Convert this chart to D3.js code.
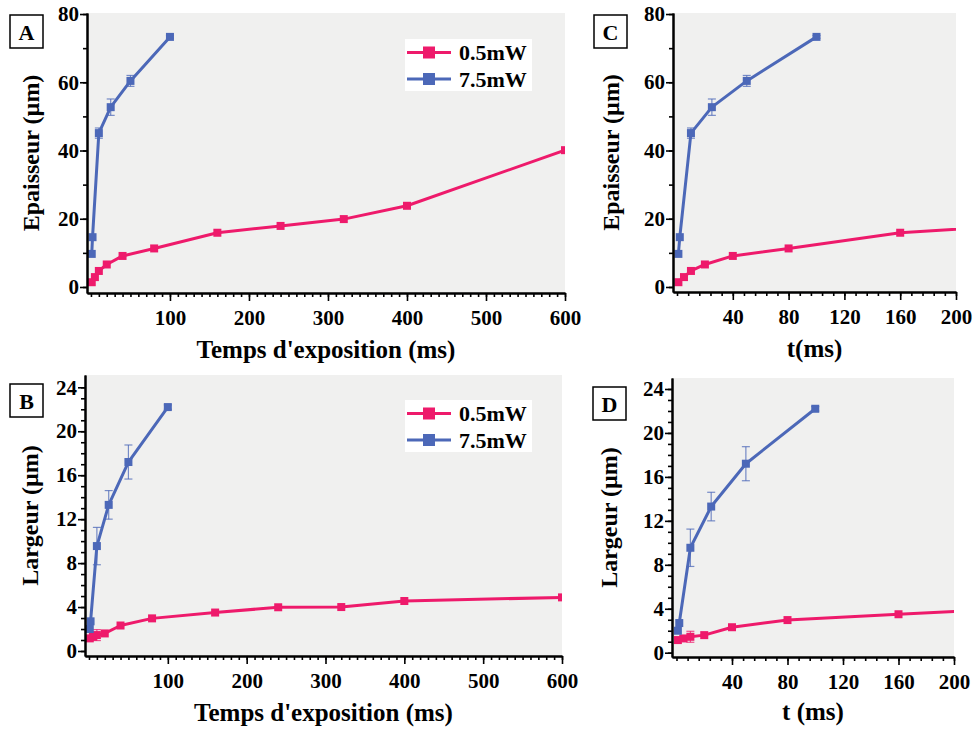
<!DOCTYPE html>
<html>
<head>
<meta charset="utf-8">
<script src="https://cdn.jsdelivr.net/npm/d3@7"></script>
<style>
  html, body { margin: 0; padding: 0; background: #fff; }
  svg { display: block; }
  text { font-family: "Liberation Serif", "Times New Roman", serif; font-weight: bold; fill: #000; }
</style>
</head>
<body>
<svg id="chart" width="973" height="729"></svg>
<script>
// ---------- DATA ----------
const seriesNames = ["0.5mW", "7.5mW"];
const tPink = [1, 5, 10, 20, 40, 80, 160, 240, 320, 400, 600];
const tBlue = [1, 2, 10, 25, 50, 100];

const epaisseurPink = [1.4, 2.9, 4.7, 6.6, 9.1, 11.3, 15.9, 17.9, 19.9, 23.8, 40.1];
const epaisseurPinkErr = [0, 0, 0, 0, 0, 0, 0, 0, 0, 0, 0];
const epaisseurBlue = [9.7, 14.6, 45.1, 52.7, 60.4, 73.3];
const epaisseurBlueErr = [0, 0, 1.5, 2.4, 1.6, 0.4];

const largeurPink = [1.15, 1.3, 1.45, 1.6, 2.32, 2.97, 3.5, 3.98, 4.0, 4.55, 4.88];
const largeurPinkErr = [0, 0.25, 0.5, 0, 0, 0, 0, 0, 0, 0, 0];
const largeurBlue = [2.0, 2.7, 9.55, 13.3, 17.2, 22.2];
const largeurBlueErr = [0, 0, 1.7, 1.3, 1.55, 0.2];

const xTicksLong = [100, 200, 300, 400, 500, 600];
const xMinorLong = d3.range(0, 601, 10);
const xTicksShort = [40, 80, 120, 160, 200];
const xMinorShort = d3.range(0, 201, 8);
const yTicksEp = [0, 20, 40, 60, 80];
const yMinorEp = d3.range(0, 81, 10);
const yTicksLg = [0, 4, 8, 12, 16, 20, 24];
const yMinorLg = d3.range(0, 25, 1);

const colors = ["#ee1a6b", "#4c68b8"];

// ---------- DRAW ----------
const svg = d3.select("#chart");

function panel(cfg) {
  const g = svg.append("g");
  const x = d3.scaleLinear().domain(cfg.xDomain).range([cfg.left, cfg.right]);
  const y = d3.scaleLinear().domain(cfg.yDomain).range([cfg.bottom, cfg.top]);
  const id = "clip" + cfg.label;

  svg.append("defs").append("clipPath").attr("id", id)
    .append("rect").attr("x", cfg.left).attr("y", cfg.top)
    .attr("width", cfg.right - cfg.left).attr("height", cfg.bottom - cfg.top);

  g.append("rect").attr("x", cfg.left).attr("y", cfg.top)
    .attr("width", cfg.right - cfg.left).attr("height", cfg.bottom - cfg.top)
    .attr("fill", "#f0f0ef");

  const plot = g.append("g").attr("clip-path", `url(#${id})`);
  cfg.series.forEach((s, i) => {
    const pts = s.x.map((xv, j) => ({ x: xv, y: s.y[j], e: s.err[j] }));
    const col = colors[i];
    const eb = plot.append("g").attr("stroke", col).attr("stroke-opacity", 0.75).attr("stroke-width", 1.2);
    pts.filter(p => p.e > 0).forEach(p => {
      const px = x(p.x), y1 = y(p.y + p.e), y2 = y(p.y - p.e);
      eb.append("line").attr("x1", px).attr("x2", px).attr("y1", y1).attr("y2", y2);
      eb.append("line").attr("x1", px - 4).attr("x2", px + 4).attr("y1", y1).attr("y2", y1);
      eb.append("line").attr("x1", px - 4).attr("x2", px + 4).attr("y1", y2).attr("y2", y2);
    });
    plot.append("path").datum(pts)
      .attr("fill", "none").attr("stroke", col).attr("stroke-width", 3)
      .attr("stroke-linejoin", "round")
      .attr("d", d3.line().x(d => x(d.x)).y(d => y(d.y)));
    plot.selectAll(null).data(pts).enter().append("rect")
      .attr("x", d => x(d.x) - 4).attr("y", d => y(d.y) - 4)
      .attr("width", 8).attr("height", 8).attr("fill", col);
  });

  const styleAxis = (sel) => {
    sel.select(".domain").attr("stroke", "#000").attr("stroke-width", 2);
    sel.selectAll(".tick line").attr("stroke", "#000").attr("stroke-width", 1.6);
    sel.selectAll("text").attr("font-family", '"Liberation Serif", serif')
      .attr("font-weight", "bold").attr("font-size", 21).attr("fill", "#000");
  };
  g.append("g").attr("transform", `translate(0,${cfg.bottom})`)
    .call(d3.axisBottom(x).tickValues(cfg.xMinor).tickSize(4).tickSizeOuter(0).tickFormat(""))
    .call(styleAxis);
  g.append("g").attr("transform", `translate(${cfg.left},0)`)
    .call(d3.axisLeft(y).tickValues(cfg.yMinor).tickSize(4).tickSizeOuter(0).tickFormat(""))
    .call(styleAxis);
  g.append("g").attr("transform", `translate(0,${cfg.bottom})`)
    .call(d3.axisBottom(x).tickValues(cfg.xTicks).tickSize(8).tickSizeOuter(0).tickPadding(9))
    .call(styleAxis);
  g.append("g").attr("transform", `translate(${cfg.left},0)`)
    .call(d3.axisLeft(y).tickValues(cfg.yTicks).tickSize(7).tickSizeOuter(0).tickPadding(1))
    .call(styleAxis);

  g.append("text").attr("x", (cfg.left + cfg.right) / 2).attr("y", cfg.xTitleY)
    .attr("text-anchor", "middle").attr("font-size", 25).text(cfg.xTitle);
  g.append("text")
    .attr("transform", `translate(${cfg.yTitleX},${(cfg.top + cfg.bottom) / 2}) rotate(-90)`)
    .attr("text-anchor", "middle").attr("font-size", 24).text(cfg.yTitle);

  g.append("rect").attr("x", cfg.box[0]).attr("y", cfg.box[1]).attr("width", 33).attr("height", 33)
    .attr("fill", "#fff").attr("stroke", "#000").attr("stroke-width", 1.5);
  g.append("text").attr("x", cfg.box[0] + 16.5).attr("y", cfg.box[1] + 25)
    .attr("text-anchor", "middle").attr("font-size", 22).text(cfg.label);

  if (cfg.legend) {
    const [lx, ly] = cfg.legend;
    const lg = g.append("g");
    lg.append("rect").attr("x", lx).attr("y", ly).attr("width", 127).attr("height", 52).attr("fill", "#fff");
    seriesNames.forEach((n, i) => {
      const yy = ly + 13.5 + i * 26.5;
      lg.append("line").attr("x1", lx + 2).attr("x2", lx + 46).attr("y1", yy).attr("y2", yy)
        .attr("stroke", colors[i]).attr("stroke-width", 3);
      lg.append("rect").attr("x", lx + 18).attr("y", yy - 6).attr("width", 12).attr("height", 12)
        .attr("fill", colors[i]);
      lg.append("text").attr("x", lx + 54).attr("y", yy + 7.5).attr("font-size", 22).text(n);
    });
  }
}

panel({
  label: "A", left: 87, right: 565, top: 13, bottom: 293,
  xDomain: [-5, 600], yDomain: [-1.76, 80.3],
  xTicks: xTicksLong, xMinor: xMinorLong, yTicks: yTicksEp, yMinor: yMinorEp,
  xTitle: "Temps d'exposition (ms)", xTitleY: 358,
  yTitle: "Epaisseur (µm)", yTitleX: 39,
  box: [10, 15], legend: [405, 39],
  series: [
    { x: tPink, y: epaisseurPink, err: epaisseurPinkErr },
    { x: tBlue, y: epaisseurBlue, err: epaisseurBlueErr }
  ]
});

panel({
  label: "B", left: 85, right: 562, top: 375, bottom: 656,
  xDomain: [-5.07, 600], yDomain: [-0.455, 25.12],
  xTicks: xTicksLong, xMinor: xMinorLong, yTicks: yTicksLg, yMinor: yMinorLg,
  xTitle: "Temps d'exposition (ms)", xTitleY: 721,
  yTitle: "Largeur (µm)", yTitleX: 38,
  box: [10, 384], legend: [405, 400],
  series: [
    { x: tPink, y: largeurPink, err: largeurPinkErr },
    { x: tBlue, y: largeurBlue, err: largeurBlueErr }
  ]
});

panel({
  label: "C", left: 673, right: 956, top: 13, bottom: 292,
  xDomain: [-2.87, 200], yDomain: [-1.47, 80.3],
  xTicks: xTicksShort, xMinor: xMinorShort, yTicks: yTicksEp, yMinor: yMinorEp,
  xTitle: "t(ms)", xTitleY: 357,
  yTitle: "Epaisseur (µm)", yTitleX: 619,
  box: [594, 15], legend: null,
  series: [
    { x: tPink, y: epaisseurPink, err: epaisseurPinkErr },
    { x: tBlue, y: epaisseurBlue, err: epaisseurBlueErr }
  ]
});

panel({
  label: "D", left: 672, right: 954, top: 378, bottom: 657,
  xDomain: [-3.24, 200], yDomain: [-0.39, 25],
  xTicks: xTicksShort, xMinor: xMinorShort, yTicks: yTicksLg, yMinor: yMinorLg,
  xTitle: "t (ms)", xTitleY: 720,
  yTitle: "Largeur (µm)", yTitleX: 617,
  box: [593, 387], legend: null,
  series: [
    { x: tPink, y: largeurPink, err: largeurPinkErr },
    { x: tBlue, y: largeurBlue, err: largeurBlueErr }
  ]
});
</script>
</body>
</html>
